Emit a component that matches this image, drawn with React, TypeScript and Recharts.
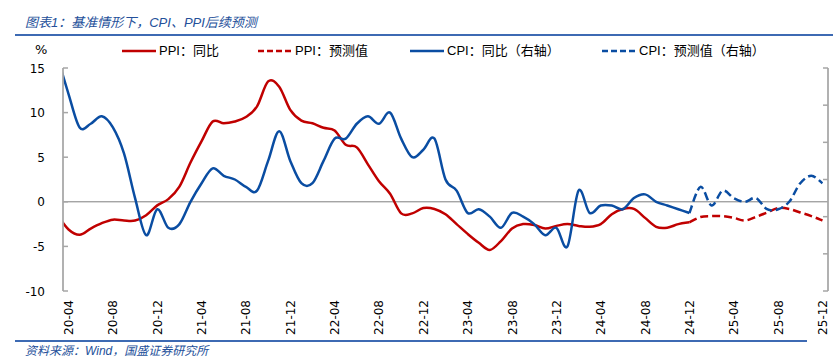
import { LineChart, Line, XAxis, YAxis, ReferenceLine } from "recharts";

// monthly categories; 20-03 sits just left of the plot and is clipped
const MONTHS = [
  "20-03", "20-04", "20-05", "20-06", "20-07", "20-08", "20-09", "20-10", "20-11", "20-12",
  "21-01", "21-02", "21-03", "21-04", "21-05", "21-06", "21-07", "21-08", "21-09", "21-10", "21-11", "21-12",
  "22-01", "22-02", "22-03", "22-04", "22-05", "22-06", "22-07", "22-08", "22-09", "22-10", "22-11", "22-12",
  "23-01", "23-02", "23-03", "23-04", "23-05", "23-06", "23-07", "23-08", "23-09", "23-10", "23-11", "23-12",
  "24-01", "24-02", "24-03", "24-04", "24-05", "24-06", "24-07", "24-08", "24-09", "24-10", "24-11", "24-12",
  "25-01", "25-02", "25-03", "25-04", "25-05", "25-06", "25-07", "25-08", "25-09", "25-10", "25-11", "25-12",
];

// 20-03 .. 24-12
const PPI_ACTUAL = [
  -1.5, -3.1, -3.7, -3.0, -2.4, -2.0, -2.1, -2.1, -1.5, -0.4,
  0.3, 1.7, 4.4, 6.8, 9.0, 8.8, 9.0, 9.5, 10.7, 13.5, 12.9, 10.3,
  9.1, 8.8, 8.3, 8.0, 6.4, 6.1, 4.2, 2.3, 0.9, -1.3, -1.3, -0.7,
  -0.8, -1.4, -2.5, -3.6, -4.6, -5.4, -4.4, -3.0, -2.5, -2.6, -3.0, -2.7,
  -2.5, -2.7, -2.8, -2.5, -1.4, -0.8, -0.8, -1.8, -2.8, -2.9, -2.5, -2.3,
];
// 24-12 .. 25-12
const PPI_FORECAST = [-2.3, -1.7, -1.6, -1.6, -1.8, -2.1, -1.7, -1.2, -0.7, -0.8, -1.2, -1.6, -2.1];

// right axis, 20-03 .. 24-12
const CPI_ACTUAL = [
  4.3, 3.3, 2.4, 2.5, 2.7, 2.4, 1.7, 0.5, -0.5, 0.2,
  -0.3, -0.2, 0.4, 0.9, 1.3, 1.1, 1.0, 0.8, 0.7, 1.5, 2.3, 1.5,
  0.9, 0.9, 1.5, 2.1, 2.1, 2.5, 2.7, 2.5, 2.8, 2.1, 1.6, 1.8,
  2.1, 1.0, 0.7, 0.1, 0.2, 0.0, -0.3, 0.1, 0.0, -0.2, -0.5, -0.3,
  -0.8, 0.7, 0.1, 0.3, 0.3, 0.2, 0.5, 0.6, 0.4, 0.3, 0.2, 0.1,
];
const CPI_FORECAST = [0.1, 0.8, 0.3, 0.7, 0.5, 0.4, 0.5, 0.2, 0.2, 0.4, 0.9, 1.1, 0.9];

const LEFT_TICKS = [-10, -5, 0, 5, 10, 15];
const RIGHT_TICKS = [-2, -1, 0, 1, 2, 3, 4];
const X_TICKS = [0, 4, 8, 12, 16, 20, 24, 28, 32, 36, 40, 44, 48, 52, 56, 60, 64, 68];

const LEGEND_ITEMS = [
  { label: "PPI：同比", series: "red", dashed: false },
  { label: "PPI：预测值", series: "red", dashed: true },
  { label: "CPI：同比（右轴）", series: "blue", dashed: false },
  { label: "CPI：预测值（右轴）", series: "blue", dashed: true },
];
const LEGEND_X = [122, 258, 410, 602];

const RED = "#C00000";
const BLUE = "#0A4DA2";
const AXIS_GRAY = "#A6A6A6";
const RULE = "#3D6AB3";
const TITLE_BLUE = "#24509A";

const FORECAST_START = MONTHS.indexOf("24-12");

const data = MONTHS.map((m, i) => ({
  idx: i - 1,
  month: m,
  ppi: i < PPI_ACTUAL.length ? PPI_ACTUAL[i] : null,
  ppiF: i >= FORECAST_START ? PPI_FORECAST[i - FORECAST_START] : null,
  cpi: i < CPI_ACTUAL.length ? CPI_ACTUAL[i] : null,
  cpiF: i >= FORECAST_START ? CPI_FORECAST[i - FORECAST_START] : null,
}));

// Excel-like smoothed line (Catmull-Rom as cubic beziers)
const smooth = (context: any) => {
  let pts: number[][] = [];
  return {
    areaStart() {},
    areaEnd() {},
    lineStart() {
      pts = [];
    },
    point(x: number, y: number) {
      pts.push([+x, +y]);
    },
    lineEnd() {
      if (!pts.length) return;
      context.moveTo(pts[0][0], pts[0][1]);
      for (let i = 0; i < pts.length - 1; i++) {
        const a = pts[i - 1] ?? pts[i];
        const b = pts[i];
        const c = pts[i + 1];
        const d = pts[i + 2] ?? c;
        context.bezierCurveTo(
          b[0] + (c[0] - a[0]) / 6,
          b[1] + (c[1] - a[1]) / 6,
          c[0] - (d[0] - b[0]) / 6,
          c[1] - (d[1] - b[1]) / 6,
          c[0],
          c[1]
        );
      }
    },
  };
};

const LeftTick = (props: any) => {
  const { x, y, payload } = props;
  return (
    <g>
      <line x1={x} x2={x + 5} y1={y} y2={y} stroke={AXIS_GRAY} strokeWidth={1.5} />
      <text x={x - 18} y={y} dy={4.5} textAnchor="end" fontSize={12} fill="#000" fontFamily="DejaVu Sans">
        {payload.value}
      </text>
    </g>
  );
};

const RightTick = (props: any) => {
  const { x, y } = props;
  return <line x1={x - 5} x2={x} y1={y} y2={y} stroke={AXIS_GRAY} strokeWidth={1.5} />;
};

const MonthTick = (props: any) => {
  const { x, y, payload } = props;
  return (
    <g transform={`translate(${x + 4.5},${y + 9}) rotate(-90)`}>
      <text textAnchor="end" fontSize={12} fill="#000" fontFamily="DejaVu Sans">
        {MONTHS[payload.value + 1]}
      </text>
    </g>
  );
};

export default function App() {
  return (
    <div
      style={{
        position: "absolute",
        left: 0,
        top: 0,
        width: 833,
        height: 361,
        background: "#fff",
        overflow: "hidden",
      }}
    >
      <div
        style={{
          position: "absolute",
          left: 25,
          top: 14,
          fontSize: 13,
          lineHeight: "17px",
          fontStyle: "italic",
          color: TITLE_BLUE,
          fontFamily: "'Liberation Sans', 'Noto Sans CJK SC', sans-serif",
          whiteSpace: "nowrap",
        }}
      >
        图表1：基准情形下，CPI、PPI后续预测
      </div>
      <div style={{ position: "absolute", left: 15, top: 34, width: 818, height: 2, background: RULE }} />

      <LineChart
        width={833}
        height={361}
        data={data}
        margin={{ top: 68, right: 0, bottom: 0, left: 0 }}
        style={{ position: "absolute", left: 0, top: 0 }}
      >
        <XAxis
          dataKey="idx"
          type="number"
          domain={[-0.5, 68.5]}
          allowDataOverflow
          ticks={X_TICKS}
          interval={0}
          axisLine={false}
          tickLine={false}
          tickSize={0}
          tickMargin={0}
          height={70}
          tick={<MonthTick />}
        />
        <YAxis
          yAxisId="left"
          domain={[-10, 15]}
          ticks={LEFT_TICKS}
          interval={0}
          allowDataOverflow
          width={63}
          axisLine={{ stroke: AXIS_GRAY, strokeWidth: 1.75 }}
          tickLine={false}
          tickSize={0}
          tickMargin={0}
          tick={<LeftTick />}
        />
        <YAxis
          yAxisId="right"
          orientation="right"
          domain={[-2, 4]}
          ticks={RIGHT_TICKS}
          interval={0}
          allowDataOverflow
          width={5}
          axisLine={{ stroke: AXIS_GRAY, strokeWidth: 1.75 }}
          tickLine={false}
          tickSize={0}
          tickMargin={0}
          tick={<RightTick />}
        />
        <ReferenceLine yAxisId="left" y={0} stroke="#7F7F7F" strokeWidth={1} />
        <Line
          yAxisId="left"
          dataKey="ppi"
          type={smooth as any}
          stroke={RED}
          strokeWidth={2.5}
          dot={false}
          activeDot={false}
          isAnimationActive={false}
        />
        <Line
          yAxisId="left"
          dataKey="ppiF"
          type={smooth as any}
          stroke={RED}
          strokeWidth={2.5}
          strokeDasharray="8 4"
          dot={false}
          activeDot={false}
          isAnimationActive={false}
        />
        <Line
          yAxisId="right"
          dataKey="cpi"
          type={smooth as any}
          stroke={BLUE}
          strokeWidth={2.5}
          dot={false}
          activeDot={false}
          isAnimationActive={false}
        />
        <Line
          yAxisId="right"
          dataKey="cpiF"
          type={smooth as any}
          stroke={BLUE}
          strokeWidth={2.5}
          strokeDasharray="8 4"
          dot={false}
          activeDot={false}
          isAnimationActive={false}
        />
      </LineChart>

      <div
        style={{
          position: "absolute",
          left: 35,
          top: 42,
          fontSize: 13,
          lineHeight: "16px",
          fontFamily: "'DejaVu Sans', sans-serif",
          color: "#000",
        }}
      >
        %
      </div>

      {LEGEND_ITEMS.map((item, i) => (
        <div key={item.label} style={{ position: "absolute", left: LEGEND_X[i], top: 42, height: 18 }}>
          <svg width={34} height={18} style={{ position: "absolute", left: 0, top: 0 }}>
            <line
              x1={0}
              x2={34}
              y1={9}
              y2={9}
              stroke={item.series === "red" ? RED : BLUE}
              strokeWidth={2.5}
              strokeDasharray={item.dashed ? "6 3" : undefined}
            />
          </svg>
          <span
            style={{
              position: "absolute",
              left: 37,
              top: 0,
              fontSize: 13,
              lineHeight: "18px",
              whiteSpace: "nowrap",
              fontFamily: "'Liberation Sans', 'Noto Sans CJK SC', sans-serif",
              color: "#000",
            }}
          >
            {item.label}
          </span>
        </div>
      ))}

      <div style={{ position: "absolute", left: 15, top: 340, width: 792, height: 2, background: RULE }} />
      <div
        style={{
          position: "absolute",
          left: 25,
          top: 343,
          fontSize: 12,
          lineHeight: "16px",
          fontStyle: "italic",
          color: TITLE_BLUE,
          fontFamily: "'Liberation Sans', 'Noto Sans CJK SC', sans-serif",
          whiteSpace: "nowrap",
        }}
      >
        资料来源：Wind，国盛证券研究所
      </div>
    </div>
  );
}
